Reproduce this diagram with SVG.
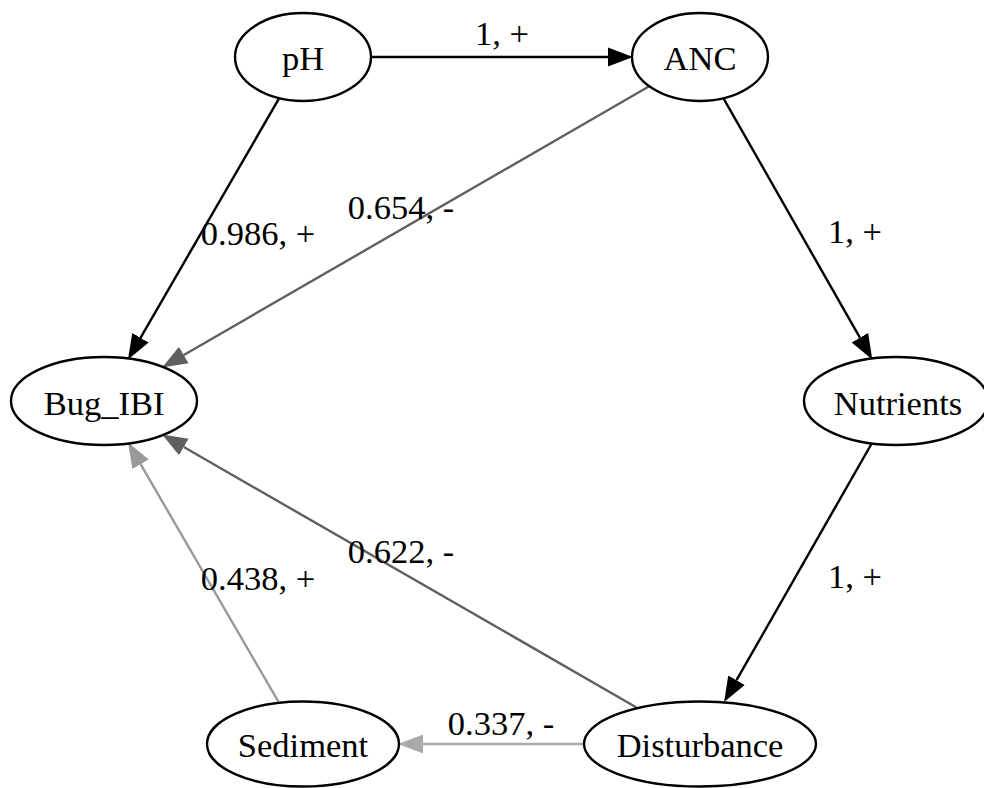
<svg xmlns="http://www.w3.org/2000/svg" width="984" height="788" viewBox="0 0 984 788">
<style>
.node ellipse{fill:#fff;stroke:#000;stroke-width:2.4}
text{font-family:"Liberation Serif","Times New Roman",serif;font-size:34.5px;text-anchor:middle;fill:#000}
.e{fill:none;stroke-width:2.4}
.k{stroke:#000}
.g1{stroke:#606060}
.g2{stroke:#999999}
.g3{stroke:#aaaaaa}
</style>
<defs>
<marker id="ak" markerUnits="userSpaceOnUse" markerWidth="30" markerHeight="24" viewBox="0 -12 30 24" refX="0" refY="0" orient="auto"><path d="M0,-9.5 L25,0 L0,9.5 z" fill="#000"/></marker>
<marker id="a1" markerUnits="userSpaceOnUse" markerWidth="30" markerHeight="24" viewBox="0 -12 30 24" refX="0" refY="0" orient="auto"><path d="M0,-9.5 L25,0 L0,9.5 z" fill="#606060"/></marker>
<marker id="a2" markerUnits="userSpaceOnUse" markerWidth="30" markerHeight="24" viewBox="0 -12 30 24" refX="0" refY="0" orient="auto"><path d="M0,-9.5 L25,0 L0,9.5 z" fill="#999999"/></marker>
<marker id="a3" markerUnits="userSpaceOnUse" markerWidth="30" markerHeight="24" viewBox="0 -12 30 24" refX="0" refY="0" orient="auto"><path d="M0,-9.5 L25,0 L0,9.5 z" fill="#aaaaaa"/></marker>
</defs>
<rect width="984" height="788" fill="#fff"/>
<g id="edges">
<g id="e_pH_ANC"><line class="e k" x1="371" y1="57" x2="608" y2="57" marker-end="url(#ak)"/><text x="502" y="45">1, +</text></g>
<g id="e_ANC_Bug"><line class="e g1" x1="649.2" y1="86.3" x2="183.8" y2="355" marker-end="url(#a1)"/><text x="401" y="219">0.654, -</text></g>
<g id="e_pH_Bug"><line class="e k" x1="279.2" y1="98.2" x2="140.5" y2="337.8" marker-end="url(#ak)"/><text x="258" y="245">0.986, +</text></g>
<g id="e_ANC_Nut"><line class="e k" x1="723.5" y1="98.3" x2="859.9" y2="337.7" marker-end="url(#ak)"/><text x="855" y="243">1, +</text></g>
<g id="e_Nut_Dist"><line class="e k" x1="871.7" y1="443.5" x2="736.5" y2="680.2" marker-end="url(#ak)"/><text x="855" y="588">1, +</text></g>
<g id="e_Dist_Bug"><line class="e g1" x1="636.1" y1="707.2" x2="183.8" y2="447" marker-end="url(#a1)"/><text x="401" y="563">0.622, -</text></g>
<g id="e_Sed_Bug"><line class="e g2" x1="278.3" y1="701.5" x2="140.6" y2="464.2" marker-end="url(#a2)"/><text x="258" y="590">0.438, +</text></g>
<g id="e_Dist_Sed"><line class="e g3" x1="584" y1="744" x2="423" y2="744" marker-end="url(#a3)"/><text x="501" y="735">0.337, -</text></g>
</g>
<g id="pH" class="node"><ellipse cx="303" cy="57" rx="68" ry="44"/><text x="303" y="70">pH</text></g>
<g id="ANC" class="node"><ellipse cx="700" cy="57" rx="68" ry="44"/><text x="700" y="70">ANC</text></g>
<g id="Bug_IBI" class="node"><ellipse cx="104" cy="401" rx="93" ry="44"/><text x="104" y="415">Bug_IBI</text></g>
<g id="Nutrients" class="node"><ellipse cx="896" cy="401" rx="92" ry="44"/><text x="898" y="415">Nutrients</text></g>
<g id="Sediment" class="node"><ellipse cx="303" cy="744" rx="96" ry="42.5"/><text x="303" y="757">Sediment</text></g>
<g id="Disturbance" class="node"><ellipse cx="700" cy="744" rx="116" ry="42.5"/><text x="700" y="757">Disturbance</text></g>
</svg>
